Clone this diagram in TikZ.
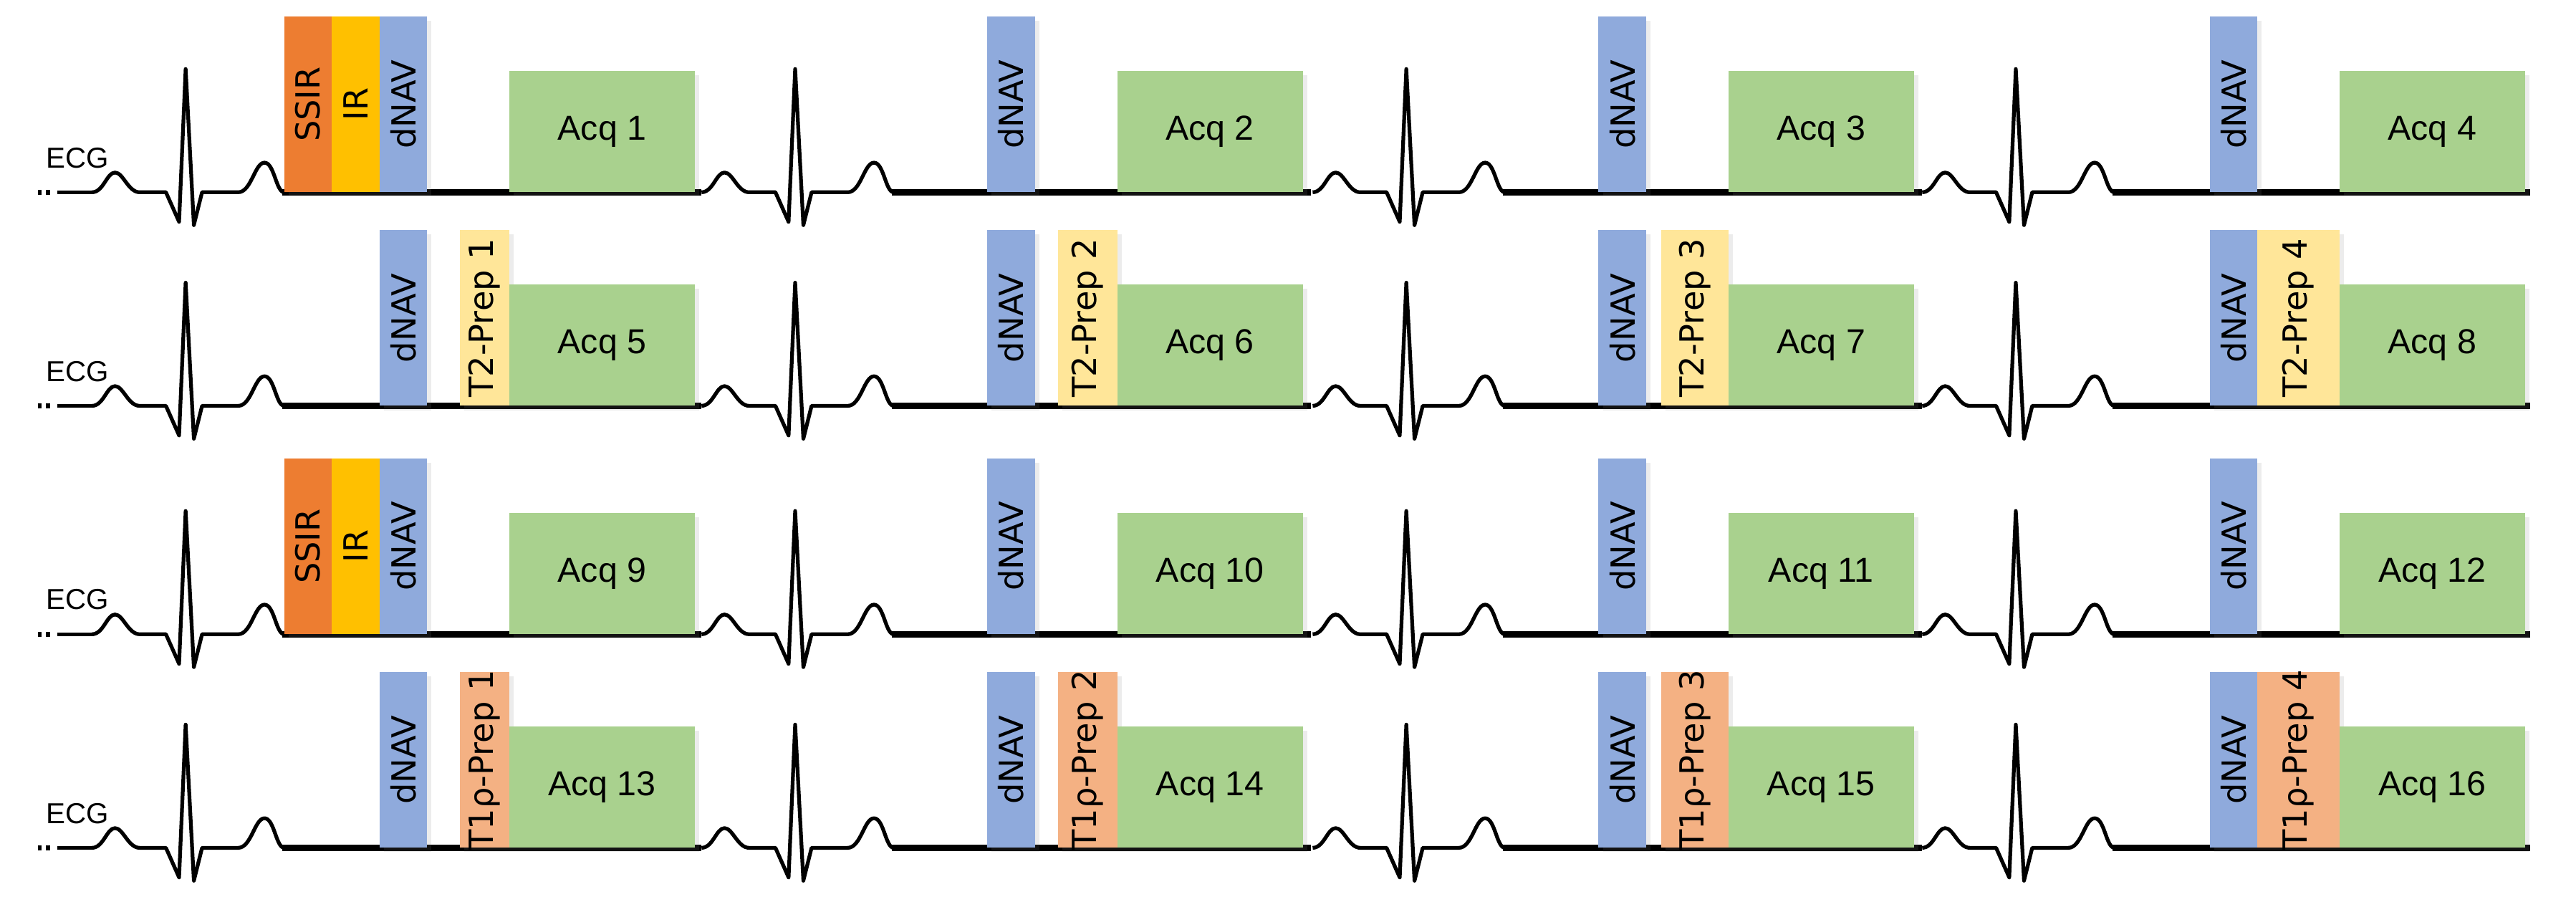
\documentclass[tikz,border=0pt]{standalone}
\usepackage{fontspec}
\setmainfont{Liberation Sans}
\newfontfamily\djvfont{DejaVu Sans}
\usetikzlibrary{shadows}
\definecolor{cSSIR}{HTML}{ED7D31}
\definecolor{cIR}{HTML}{FFC000}
\definecolor{cNAV}{HTML}{8FAADC}
\definecolor{cACQ}{HTML}{A9D18E}
\definecolor{cT2}{HTML}{FFE699}
\definecolor{cT1}{HTML}{F4B183}
\newcommand{\ecgcyc}[2]{% R x, baseline y
  \draw[ecg] (#1-57,#2) .. controls (#1-50,#2) and (#1-48,#2-12) .. (#1-43,#2-12)
    .. controls (#1-38,#2-12) and (#1-35,#2) .. (#1-28,#2) -- (#1-12,#2)
    -- (#1-4,#2+18) -- (#1,#2-75) -- (#1+5,#2+20) -- (#1+10,#2) -- (#1+32,#2)
    .. controls (#1+40,#2) and (#1+42,#2-18) .. (#1+48,#2-18)
    .. controls (#1+54,#2-18) and (#1+55,#2) .. (#1+60,#2);}
\begin{document}
\begin{tikzpicture}[x=0.02cm,y=-0.02cm,
  ecg/.style={line width=1.3pt,line join=round},
  base/.style={line width=2.2pt},
  blk/.style={draw=none,inner sep=0,outer sep=0,anchor=south west,
    drop shadow={opacity=0.15,shadow xshift=1.5pt,shadow yshift=-1.5pt}},
  vtxt/.style={font=\djvfont\fontsize{11.5}{11.5}\selectfont,rotate=90},
  atxt/.style={font=\fontsize{12}{12}\selectfont}]
\useasboundingbox (0,0) rectangle (1568,552);
\foreach \b/\r in {117/1,247/2,386/3,516/4}{
  \node[font=\fontsize{10}{10}\selectfont] (ecg\r) at (47,\b-21) {ECG};
  \fill (23,\b-1.5) rectangle (25.5,\b+1.5);
  \fill (28,\b-1.5) rectangle (30.5,\b+1.5);
  \draw[ecg] (35,\b) -- (57,\b);
  \foreach \xr in {113,484,856,1227}{\ecgcyc{\xr}{\b}}
  \foreach \xr in {113,484,856}{\draw[base] (\xr+59,\b) -- (\xr+314,\b);}
  \draw[base] (1286,\b) -- (1540,\b);
}
% rows with SSIR/IR
\foreach \b/\a/\r in {117/1/1,386/9/3}{
  \node[blk,fill=cSSIR,minimum width=29*0.02cm,minimum height=107*0.02cm] (ssir\r) at (173,\b) {};
  \node[vtxt] at (ssir\r.center) {SSIR};
  \node[blk,fill=cIR,minimum width=29*0.02cm,minimum height=107*0.02cm] (ir\r) at (202,\b) {};
  \node[vtxt] at (ir\r.center) {IR};
  \foreach \k in {0,1,2,3}{
    \pgfmathtruncatemacro{\n}{\a+\k}
    \pgfmathsetmacro{\o}{\k==0?0:(\k==1?370:(\k==2?742:1114))}
    \node[blk,fill=cNAV,minimum width=29*0.02cm,minimum height=107*0.02cm] (nav\r\k) at (231+\o,\b) {};
    \node[vtxt] at (nav\r\k.center) {dNAV};
    \node[blk,fill=cACQ,minimum width=113*0.02cm,minimum height=74*0.02cm] (acq\n) at (310+\o,\b) {};
    \node[atxt] at (acq\n.center) {Acq \n};
  }
}
% rows with preps
\foreach \b/\a/\r/\c/\pl in {247/5/2/cT2/T2,516/13/4/cT1/T1ρ}{
  \foreach \k/\o/\p in {0/0/280,1/370/644,2/742/1011,3/1114/1374}{
    \pgfmathtruncatemacro{\n}{\a+\k}
    \pgfmathtruncatemacro{\m}{\k+1}
    \node[blk,fill=cNAV,minimum width=29*0.02cm,minimum height=107*0.02cm] (nav\r\k) at (231+\o,\b) {};
    \node[vtxt] at (nav\r\k.center) {dNAV};
    \pgfmathsetmacro{\w}{310+\o-\p}
    \node[blk,fill=\c,minimum width=\w*0.02cm,minimum height=107*0.02cm] (prep\r\k) at (\p,\b) {};
    \node[vtxt] at (prep\r\k.center) {\pl-Prep \m};
    \node[blk,fill=cACQ,minimum width=113*0.02cm,minimum height=74*0.02cm] (acq\n) at (310+\o,\b) {};
    \node[atxt] at (acq\n.center) {Acq \n};
  }
}
\end{tikzpicture}
\end{document}
